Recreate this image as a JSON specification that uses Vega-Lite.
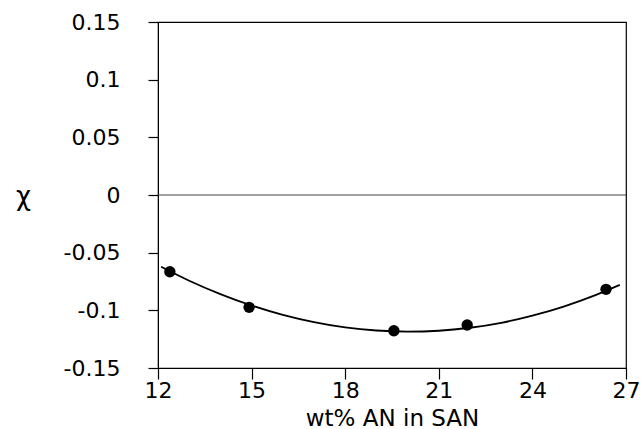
{
  "$schema": "https://vega.github.io/schema/vega-lite/v6.json",
  "width": 468,
  "height": 346,
  "autosize": {"type": "none"},
  "padding": {"left": 158, "top": 22, "right": 16, "bottom": 61},
  "background": "white",
  "config": {
    "view": {"stroke": "black", "strokeWidth": 1.2},
    "axis": {
      "labelFont": "DejaVu Sans",
      "titleFont": "DejaVu Sans",
      "labelFontSize": 22,
      "titleFontSize": 23,
      "labelColor": "black",
      "titleColor": "black",
      "titleFontWeight": "normal",
      "domainColor": "black",
      "tickColor": "black",
      "tickWidth": 1.2,
      "grid": false,
      "zindex": 1
    }
  },
  "datasets": {
    "points": [
      {"an": 12.38, "chi": -0.0665},
      {"an": 14.92, "chi": -0.0974},
      {"an": 19.56, "chi": -0.1177},
      {"an": 21.91, "chi": -0.1127},
      {"an": 26.36, "chi": -0.0818}
    ],
    "curve": [
      {"an": 12.1, "chi": -0.0622},
      {"an": 13, "chi": -0.0743},
      {"an": 14, "chi": -0.0859},
      {"an": 15, "chi": -0.0958},
      {"an": 16, "chi": -0.1039},
      {"an": 17, "chi": -0.1102},
      {"an": 18, "chi": -0.1148},
      {"an": 19, "chi": -0.1175},
      {"an": 20, "chi": -0.1185},
      {"an": 21, "chi": -0.1177},
      {"an": 22, "chi": -0.1151},
      {"an": 23, "chi": -0.1108},
      {"an": 24, "chi": -0.1046},
      {"an": 25, "chi": -0.0967},
      {"an": 26, "chi": -0.0870},
      {"an": 26.8, "chi": -0.0779}
    ],
    "zero": [{"chi": 0, "x0": 12, "x1": 27}]
  },
  "layer": [
    {
      "data": {"name": "curve"},
      "mark": {"type": "line", "color": "black", "strokeWidth": 1.8, "interpolate": "monotone"},
      "encoding": {
        "x": {
          "field": "an", "type": "quantitative",
          "scale": {"domain": [12, 27], "nice": false, "zero": false},
          "axis": {
            "orient": "bottom",
            "values": [12, 15, 18, 21, 24, 27],
            "labelOverlap": false,
            "labelFlush": false,
            "ticks": true, "tickSize": 11,
            "labelPadding": 1,
            "title": "wt% AN in SAN",
            "titlePadding": 6
          }
        },
        "y": {
          "field": "chi", "type": "quantitative",
          "scale": {"domain": [-0.15, 0.15], "nice": false, "zero": false},
          "axis": {
            "orient": "left",
            "values": [-0.15, -0.1, -0.05, 0, 0.05, 0.1, 0.15],
            "labelExpr": "replace(format(datum.value, '~f'), '−', '-')",
            "labelOverlap": false,
            "labelFlush": false,
            "ticks": true, "tickSize": 10,
            "labelPadding": 28,
            "title": "χ", "titleAngle": 0, "titleFontSize": 26,
            "titleAlign": "center", "titleBaseline": "middle",
            "titleX": -135, "titleY": 174
          }
        }
      }
    },
    {
      "data": {"name": "zero"},
      "mark": {"type": "rule", "color": "#444444", "strokeWidth": 1},
      "encoding": {
        "x": {"field": "x0", "type": "quantitative"},
        "x2": {"field": "x1"},
        "y": {"field": "chi", "type": "quantitative"}
      }
    },
    {
      "data": {"name": "points"},
      "mark": {"type": "point", "filled": true, "color": "black", "opacity": 1, "size": 130},
      "encoding": {
        "x": {"field": "an", "type": "quantitative"},
        "y": {"field": "chi", "type": "quantitative"}
      }
    }
  ]
}
